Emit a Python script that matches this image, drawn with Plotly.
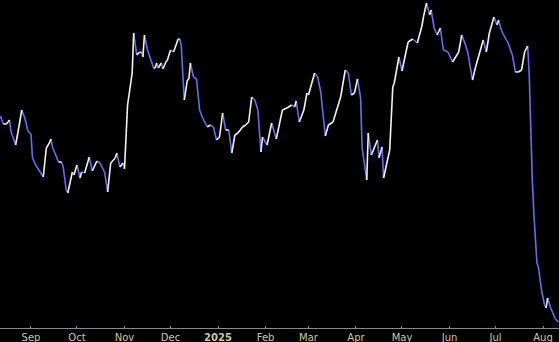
import plotly.graph_objects as go

dates = [
    "2024-08-12", "2024-08-14", "2024-08-16", "2024-08-18", "2024-08-19", "2024-08-20",
    "2024-08-22", "2024-08-24", "2024-08-26", "2024-08-28", "2024-08-30", "2024-09-01",
    "2024-09-02", "2024-09-04", "2024-09-07", "2024-09-09", "2024-09-11", "2024-09-13",
    "2024-09-14", "2024-09-15", "2024-09-19", "2024-09-21", "2024-09-22", "2024-09-24",
    "2024-09-25", "2024-09-28", "2024-09-29", "2024-10-01", "2024-10-03", "2024-10-04",
    "2024-10-06", "2024-10-09", "2024-10-11", "2024-10-14", "2024-10-16", "2024-10-19",
    "2024-10-21", "2024-10-23", "2024-10-26", "2024-10-27", "2024-10-29", "2024-10-31",
    "2024-11-01", "2024-11-03", "2024-11-06", "2024-11-07", "2024-11-09", "2024-11-10",
    "2024-11-12", "2024-11-13", "2024-11-14", "2024-11-16", "2024-11-20", "2024-11-21",
    "2024-11-22", "2024-11-23", "2024-11-25", "2024-11-26", "2024-11-28", "2024-11-29",
    "2024-12-01", "2024-12-03", "2024-12-06", "2024-12-07", "2024-12-08", "2024-12-10",
    "2024-12-12", "2024-12-13", "2024-12-14", "2024-12-16", "2024-12-18", "2024-12-20",
    "2024-12-22", "2024-12-25", "2024-12-27", "2024-12-29", "2024-12-31", "2025-01-02",
    "2025-01-04", "2025-01-06", "2025-01-08", "2025-01-10", "2025-01-12", "2025-01-14",
    "2025-01-17", "2025-01-19", "2025-01-21", "2025-01-23", "2025-01-25", "2025-01-27",
    "2025-01-29", "2025-01-30", "2025-02-02", "2025-02-05", "2025-02-08", "2025-02-12",
    "2025-02-15", "2025-02-18", "2025-02-20", "2025-02-21", "2025-02-23", "2025-02-26",
    "2025-02-28", "2025-03-01", "2025-03-05", "2025-03-07", "2025-03-09", "2025-03-12",
    "2025-03-14", "2025-03-17", "2025-03-20", "2025-03-22", "2025-03-25", "2025-03-27",
    "2025-03-29", "2025-03-31", "2025-04-02", "2025-04-04", "2025-04-05", "2025-04-08",
    "2025-04-09", "2025-04-11", "2025-04-15", "2025-04-16", "2025-04-18", "2025-04-19",
    "2025-04-23", "2025-04-25", "2025-04-26", "2025-04-29", "2025-05-01", "2025-05-05",
    "2025-05-08", "2025-05-11", "2025-05-14", "2025-05-15", "2025-05-17", "2025-05-19",
    "2025-05-20", "2025-05-22", "2025-05-24", "2025-05-26", "2025-05-28", "2025-05-31",
    "2025-06-03", "2025-06-07", "2025-06-09", "2025-06-11", "2025-06-13", "2025-06-16",
    "2025-06-18", "2025-06-23", "2025-06-25", "2025-06-27", "2025-06-30", "2025-07-02",
    "2025-07-03", "2025-07-05", "2025-07-08", "2025-07-09", "2025-07-12", "2025-07-14",
    "2025-07-16", "2025-07-18", "2025-07-20", "2025-07-22", "2025-07-23", "2025-07-25",
    "2025-07-26", "2025-07-28", "2025-07-29", "2025-07-31", "2025-08-02", "2025-08-03",
    "2025-08-04", "2025-08-06", "2025-08-09", "2025-08-11",
]

close = [
    214, 206, 206, 210, 198, 194,
    185, 202, 220, 212, 199, 196,
    172, 165, 158, 153, 182, 187,
    191, 183, 168, 168, 163, 140,
    137, 158, 155, 165, 152, 158,
    157, 173, 159, 169, 167, 158,
    138, 167, 172, 177, 163, 167,
    161, 225, 257, 297, 275, 277,
    278, 273, 295, 280, 262, 262,
    267, 262, 267, 261, 268, 270,
    280, 278, 291, 291, 285, 230,
    250, 251, 267, 253, 251, 220,
    212, 203, 205, 203, 190, 193,
    217, 200, 200, 177, 195, 197,
    203, 205, 208, 233, 230, 220,
    178, 193, 185, 207, 191, 220,
    222, 225, 223, 229, 208, 220,
    237, 235, 257, 253, 238, 194,
    205, 208, 223, 233, 260, 257,
    235, 237, 251, 232, 182, 150,
    197, 175, 190, 172, 183, 152,
    180, 243, 247, 273, 259, 288,
    291, 287, 304, 313, 327, 315,
    320, 302, 295, 302, 280, 278,
    268, 278, 295, 287, 277, 250,
    263, 290, 278, 297, 313, 305,
    310, 299, 290, 288, 275, 258,
    258, 260, 278, 284, 255, 150,
    117, 67, 63, 40, 25, 22,
    32, 22, 11, 8,
]

tick_vals = ["2024-09-01", "2024-10-01", "2024-11-01", "2024-12-01", "2025-01-01",
             "2025-02-01", "2025-03-01", "2025-04-01", "2025-05-01", "2025-06-01",
             "2025-07-01", "2025-08-01"]
tick_text = ["Sep", "Oct", "Nov", "Dec", "<b>2025</b>", "Feb", "Mar", "Apr", "May",
             "Jun", "Jul", "Aug"]

UP_COLOR = "#f2f2f2"
DOWN_COLOR = "#6b6bf0"

up_x, up_y, dn_x, dn_y = [], [], [], []
for i in range(len(close) - 1):
    seg_x = [dates[i], dates[i + 1], None]
    seg_y = [close[i], close[i + 1], None]
    if close[i + 1] >= close[i]:
        up_x += seg_x
        up_y += seg_y
    else:
        dn_x += seg_x
        dn_y += seg_y

fig = go.Figure()
fig.add_trace(go.Scatter(x=dn_x, y=dn_y, mode="lines",
                         line=dict(color=DOWN_COLOR, width=1.6),
                         connectgaps=False, hoverinfo="skip"))
fig.add_trace(go.Scatter(x=up_x, y=up_y, mode="lines",
                         line=dict(color=UP_COLOR, width=1.6),
                         connectgaps=False, hoverinfo="skip"))

fig.update_layout(
    width=559, height=342,
    margin=dict(l=0, r=0, t=0, b=14),
    paper_bgcolor="#000000",
    plot_bgcolor="#000000",
    showlegend=False,
    xaxis=dict(
        type="date",
        range=["2024-08-11 19:00", "2025-08-11 10:00"],
        tickvals=tick_vals,
        ticktext=tick_text,
        showgrid=False,
        zeroline=False,
        showline=True,
        linecolor="#8a8a8a",
        linewidth=1,
        ticks="inside",
        ticklen=2,
        tickcolor="#8a8a8a",
        tickfont=dict(family="DejaVu Sans", size=10, color="#c9c99a"),
        fixedrange=True,
    ),
    yaxis=dict(
        range=[2, 330],
        visible=False,
        showgrid=False,
        zeroline=False,
        fixedrange=True,
    ),
)

fig.write_html("out.html", config={"displayModeBar": False})
